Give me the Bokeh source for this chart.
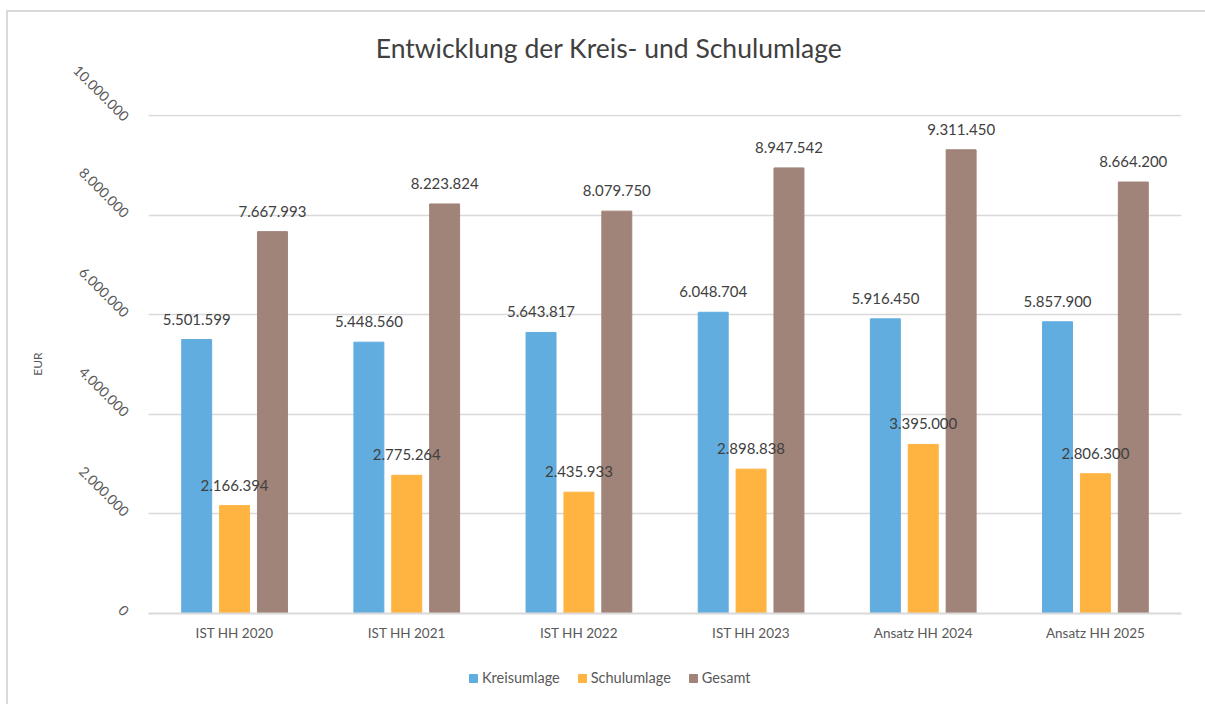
import math
import numpy as np
from bokeh.plotting import figure
from bokeh.layouts import column
from bokeh.models import (ColumnDataSource, FactorRange, Range1d, FixedTicker,
                          CustomJSTickFormatter, Legend, LegendItem, Label)
from bokeh.transform import dodge
from bokeh.core.properties import value
from bokeh.embed import file_html
from bokeh.resources import INLINE

categories = ["IST HH 2020", "IST HH 2021", "IST HH 2022", "IST HH 2023",
              "Ansatz HH 2024", "Ansatz HH 2025"]
kreisumlage = [5501599, 5448560, 5643817, 6048704, 5916450, 5857900]
schulumlage = [2166394, 2775264, 2435933, 2898838, 3395000, 2806300]
gesamt = [7667993, 8223824, 8079750, 8947542, 9311450, 8664200]
y_ticks = [0, 2000000, 4000000, 6000000, 8000000, 10000000]
series_names = ["Kreisumlage", "Schulumlage", "Gesamt"]
title_text = "Entwicklung der Kreis- und Schulumlage"
y_label = "EUR"

BLUE = "#62ADDF"
ORANGE = "#FFB340"
BROWN = "#A08379"
FONT = "Lato"
TXT = "#404040"
AX = "#595959"
GRID = "#D9D9D9"


def de(n):
    return f"{n:,}".replace(",", ".")


src = ColumnDataSource(dict(
    cat=categories, k=kreisumlage, s=schulumlage, g=gesamt,
    kl=[de(v) for v in kreisumlage],
    sl=[de(v) for v in schulumlage],
    gl=[de(v) for v in gesamt],
))


def strip(h):
    f = figure(width=1205, height=h, output_backend="svg", toolbar_location=None,
               min_border=0, x_range=Range1d(0, 1), y_range=Range1d(0, 1))
    f.axis.visible = False
    f.grid.grid_line_color = None
    f.outline_line_color = None
    f.border_fill_color = None
    f.background_fill_color = None
    return f


# title strip
tf = strip(64)
tf.add_layout(Label(x=460.5, y=17, x_units="screen", y_units="screen", text=title_text,
                    text_align="center", text_baseline="middle", text_font=FONT,
                    text_font_size="26.5px", text_color=TXT))

# main chart
p = figure(x_range=FactorRange(*categories), y_range=Range1d(0, 10020000),
           width=1205, height=591, output_backend="svg", toolbar_location=None,
           min_border_left=148, min_border_right=24, min_border_top=50,
           min_border_bottom=42, title=None)
p.outline_line_color = None
p.background_fill_color = "white"
p.border_fill_color = None

offs = [-0.22, 0.0, 0.22]
cols = [BLUE, ORANGE, BROWN]
fields = ["k", "s", "g"]
lfields = ["kl", "sl", "gl"]
for off, c, f in zip(offs, cols, fields):
    p.vbar(x=dodge("cat", off, range=p.x_range), top=f, width=0.174,
           source=src, fill_color=c, line_color=c)
for off, f, lf_ in zip(offs, fields, lfields):
    p.text(x=dodge("cat", off, range=p.x_range), y=f, text=lf_, source=src,
           text_align="center", text_baseline="bottom", y_offset=-15,
           text_font=value(FONT), text_font_size="15px", text_color=TXT)

p.yaxis.ticker = FixedTicker(ticks=y_ticks)
p.yaxis.formatter = CustomJSTickFormatter(
    code='return Math.round(tick).toString().replace(/\\B(?=(\\d{3})+(?!\\d))/g, ".");')
p.yaxis.major_label_orientation = -math.pi / 4
p.yaxis.axis_line_color = None
p.yaxis.major_tick_line_color = None
p.yaxis.minor_tick_line_color = None
p.yaxis.major_label_standoff = 16
p.yaxis.major_label_text_font = FONT
p.yaxis.major_label_text_font_size = "14px"
p.yaxis.major_label_text_color = AX
p.yaxis.axis_label = y_label
p.yaxis.axis_label_standoff = 21
p.yaxis.axis_label_text_font = FONT
p.yaxis.axis_label_text_font_size = "12px"
p.yaxis.axis_label_text_font_style = "normal"
p.yaxis.axis_label_text_color = AX

p.xaxis.axis_line_color = GRID
p.xaxis.axis_line_width = 2
p.xaxis.major_tick_line_color = None
p.xaxis.minor_tick_line_color = None
p.xaxis.major_label_standoff = 5
p.xaxis.major_label_text_font = FONT
p.xaxis.major_label_text_font_size = "13.5px"
p.xaxis.major_label_text_color = AX

p.xgrid.grid_line_color = None
p.ygrid.grid_line_color = GRID
p.ygrid.grid_line_width = 1.3

# legend strip below the chart (frames are aligned with the chart above)
lf = strip(49)
leg_renderers = [lf.vbar(x=np.array([np.nan]), top=np.array([np.nan]), width=0.1,
                         fill_color=c, line_color=c) for c in cols]
legend = Legend(items=[LegendItem(label=n, renderers=[r]) for n, r in zip(series_names, leg_renderers)],
                orientation="horizontal", location=(320, 18), glyph_width=10, glyph_height=10,
                label_text_font=FONT, label_text_font_size="14.5px", label_text_color=AX,
                spacing=17, label_standoff=4, border_line_color=None,
                background_fill_alpha=0, padding=4, margin=0)
lf.add_layout(legend, "center")

layout = column(tf, p, lf, spacing=0)
layout.styles = {
    "background": ("linear-gradient(#D9D9D9, #D9D9D9) 6px 10px / 2px 100% no-repeat, "
                   "linear-gradient(#D9D9D9, #D9D9D9) 6px 10px / 100% 2px no-repeat, white"),
}
open("out.html", "w").write(file_html(layout, INLINE))
